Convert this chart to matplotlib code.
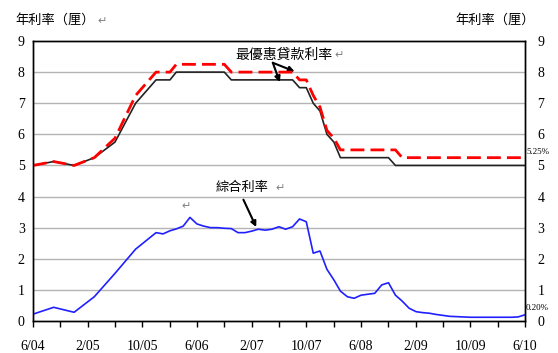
import matplotlib
matplotlib.use("Agg")
import matplotlib.pyplot as plt
import pandas as pd

# data: quarterly to 12/05, monthly afterwards
dates = ["2004-06", "2004-09", "2004-12", "2005-03", "2005-06", "2005-09", "2005-12"] + \
        [str(p) for p in pd.period_range("2006-01", "2010-06", freq="M")]

prime_black = [5.0, 5.125, 5.0, 5.25, 5.75, 7.0, 7.75,
               7.75, 7.75, 8.0, 8.0, 8.0, 8.0, 8.0, 8.0, 8.0, 8.0, 7.75, 7.75,   # 06
               7.75, 7.75, 7.75, 7.75, 7.75, 7.75, 7.75, 7.75, 7.5, 7.5, 7.0, 6.75,   # 07
               6.0, 5.75, 5.25, 5.25, 5.25, 5.25, 5.25, 5.25, 5.25, 5.25, 5.0, 5.0,   # 08
               5.0, 5.0, 5.0, 5.0, 5.0, 5.0, 5.0, 5.0, 5.0, 5.0, 5.0, 5.0,   # 09
               5.0, 5.0, 5.0, 5.0, 5.0, 5.0]
prime_red = [5.0, 5.125, 5.0, 5.25, 5.875, 7.25, 8.0,
             8.0, 8.0, 8.25, 8.25, 8.25, 8.25, 8.25, 8.25, 8.25, 8.25, 8.0, 8.0,
             8.0, 8.0, 8.0, 8.0, 8.0, 8.0, 8.0, 8.0, 7.75, 7.75, 7.25, 6.875,
             6.125, 5.875, 5.5, 5.5, 5.5, 5.5, 5.5, 5.5, 5.5, 5.5, 5.5, 5.25,
             5.25, 5.25, 5.25, 5.25, 5.25, 5.25, 5.25, 5.25, 5.25, 5.25, 5.25, 5.25,
             5.25, 5.25, 5.25, 5.25, 5.25, 5.25]
composite = [0.22, 0.44, 0.28, 0.78, 1.53, 2.31, 2.84,
             2.80, 2.90, 2.96, 3.05, 3.33, 3.12, 3.05, 3.0, 3.0, 2.98, 2.97, 2.84,
             2.84, 2.89, 2.95, 2.92, 2.95, 3.03, 2.95, 3.03, 3.28, 3.19, 2.18, 2.25,
             1.66, 1.32, 0.96, 0.78, 0.73, 0.83, 0.86, 0.89, 1.16, 1.23, 0.83, 0.64,
             0.41, 0.30, 0.27, 0.25, 0.21, 0.18, 0.15, 0.14, 0.13, 0.12, 0.12, 0.12,
             0.12, 0.12, 0.12, 0.12, 0.13, 0.20]

CJK = ["Noto Sans CJK TC", "DejaVu Sans"]
NUM = "Liberation Serif"

x = pd.to_datetime(dates)

fig = plt.figure(figsize=(5.58, 3.53), dpi=100)
ax = fig.add_axes([33 / 558, 1 - 321 / 353, 492 / 558, 280 / 353])

ax.plot(x, composite, color="#2020ff", lw=1.2, zorder=3)
ax.plot(x, prime_black, color="#222222", lw=1.2, zorder=3)
ax.plot(x, prime_red, color="#ff0000", lw=2, dashes=(5, 2.2), zorder=4)

ax.set_xlim(pd.Timestamp("2004-06-01"), pd.Timestamp("2010-06-01"))
ax.set_ylim(0, 9)
for v in range(1, 9):
    ax.axhline(v, color="#b4b4b4", lw=1, zorder=1)

ticks = pd.date_range("2004-06-01", "2010-06-01", freq="4MS")
ax.set_xticks(ticks)
ax.set_xticklabels([f"{d.month}/{d.year % 100:02d}" if i % 2 == 0 else ""
                    for i, d in enumerate(ticks)], fontfamily=NUM, fontsize=10)
ax.tick_params(axis="x", length=4, width=1, pad=10)
ax.set_yticks(range(10))
ax.set_yticklabels([str(v) for v in range(10)], fontfamily=NUM, fontsize=10)
ax.tick_params(axis="y", length=0, pad=6)

ax2 = ax.twinx()
ax2.set_ylim(0, 9)
ax2.set_yticks(range(10))
ax2.set_yticklabels([str(v) for v in range(10)], fontfamily=NUM, fontsize=10)
ax2.tick_params(axis="y", length=0, pad=9)

for a in (ax, ax2):
    for s in a.spines.values():
        s.set_color("black")
        s.set_linewidth(1)

# titles
fig.text(15 / 558, 1 - 20 / 353, "年利率（厘）", family=CJK, fontsize=9.5, va="center")
fig.text(97 / 558, 1 - 21 / 353, "↵", family=CJK, fontsize=8, va="center", color="gray")
fig.text(535 / 558, 1 - 20 / 353, "年利率（厘）", family=CJK, fontsize=9.5, va="center", ha="right")

# annotations
ax.text(pd.Timestamp("2007-06-25"), 8.55, "最優惠貸款利率", family=CJK, fontsize=10,
        ha="center", va="center")
ax.text(pd.Timestamp("2008-02-05"), 8.55, "↵", family=CJK, fontsize=8, color="gray", va="center")
arrow = dict(arrowstyle="-|>", color="black", lw=1.5, mutation_scale=8, shrinkA=0, shrinkB=0)
tail = (pd.Timestamp("2007-05-05"), 8.3)
ax.annotate("", xy=(pd.Timestamp("2007-08-10"), 8.02), xytext=tail, arrowprops=arrow)
ax.annotate("", xy=(pd.Timestamp("2007-06-05"), 7.68), xytext=tail, arrowprops=arrow)

ax.text(pd.Timestamp("2006-12-20"), 4.28, "綜合利率", family=CJK, fontsize=9.5,
        ha="center", va="center")
ax.text(pd.Timestamp("2007-05-15"), 4.28, "↵", family=CJK, fontsize=8, color="gray", va="center")
ax.annotate("", xy=(pd.Timestamp("2007-02-20"), 3.02), xytext=(pd.Timestamp("2006-12-25"), 3.9),
            arrowprops=arrow)
ax.text(pd.Timestamp("2006-03-25"), 3.68, "↵", family=CJK, fontsize=8, color="gray", va="center")

# end-value labels
ax.text(1.002, 5.42, "5.25%", transform=ax.get_yaxis_transform(), fontfamily=NUM,
        fontsize=6.5, va="center")
ax.text(1.002, 0.42, "0.20%", transform=ax.get_yaxis_transform(), fontfamily=NUM,
        fontsize=6.5, va="center")

fig.savefig("out.png", dpi=100)
